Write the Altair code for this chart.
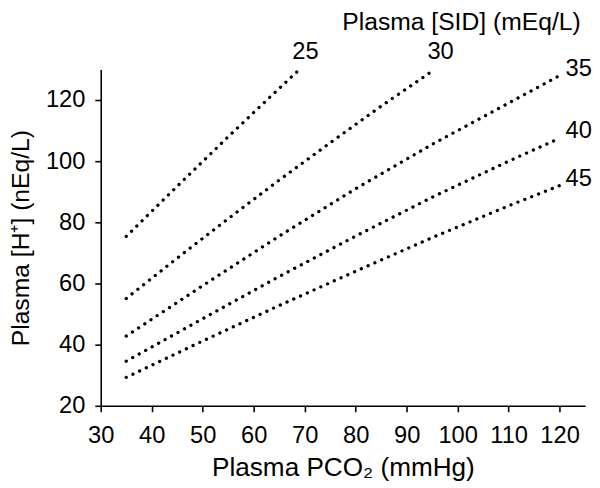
import altair as alt
import pandas as pd

# Plasma PCO2 (mmHg) sample positions and [H+] (nEq/L) for each SID curve
pco2_25 = [35, 45, 55, 65, 69]
h_25 = [75.4, 91.8, 108.0, 123.8, 130.0]

pco2_30 = [35, 45, 55, 65, 75, 85, 95.5]
h_30 = [55.1, 68.3, 81.2, 93.8, 106.0, 118.0, 130.0]

pco2_35 = [35, 50, 65, 80, 95, 110, 120]
h_35 = [42.8, 59.3, 75.5, 91.0, 105.5, 119.0, 128.0]

pco2_40 = [35, 50, 65, 80, 95, 110, 120]
h_40 = [34.6, 48.5, 62.3, 75.5, 88.2, 100.0, 107.5]

pco2_45 = [35, 50, 65, 80, 95, 110, 120]
h_45 = [29.3, 41.2, 52.8, 64.0, 75.0, 85.4, 92.0]

sid_values = [25, 30, 35, 40, 45]
x_ticks = [30, 40, 50, 60, 70, 80, 90, 100, 110, 120]
y_ticks = [20, 40, 60, 80, 100, 120]
legend_title = ["Plasma [SID] (mEq/L)"]

series = {
    25: (pco2_25, h_25),
    30: (pco2_30, h_30),
    35: (pco2_35, h_35),
    40: (pco2_40, h_40),
    45: (pco2_45, h_45),
}

rows = []
for sid in sid_values:
    xs, ys = series[sid]
    for i, (x, y) in enumerate(zip(xs, ys)):
        rows.append({"sid": sid, "pco2": x, "h": y, "order": i})
df = pd.DataFrame(rows)

ends = df.sort_values("order").groupby("sid").tail(1).copy()
ends["label"] = ends["sid"].astype(str)
top_ends = ends[ends["sid"].isin([25, 30])]
right_ends = ends[ends["sid"].isin([35, 40, 45])]

FONT = "Liberation Sans"

xscale = alt.Scale(domain=[30, 125], nice=False, zero=False)
yscale = alt.Scale(domain=[20, 130], nice=False, zero=False)

xaxis = alt.Axis(
    values=x_ticks, title="Plasma PCO₂ (mmHg)", grid=False,
    tickSize=6, labelPadding=12, labelFontSize=24, titleFontSize=26.5,
    titleFontWeight="normal", titlePadding=8, labelFlush=False, labelOverlap=False,
)
yaxis = alt.Axis(
    values=y_ticks, title="Plasma [H⁺] (nEq/L)", grid=False,
    tickSize=6, labelPadding=10, labelFontSize=24, titleFontSize=25,
    titleFontWeight="normal", titlePadding=12, labelFlush=False, labelOverlap=False,
)

lines = alt.Chart(df).mark_line(
    color="black", strokeWidth=3.3, strokeDash=[0.1, 7.4], strokeCap="round"
).encode(
    x=alt.X("pco2:Q", scale=xscale, axis=xaxis),
    y=alt.Y("h:Q", scale=yscale, axis=yaxis),
    detail="sid:N",
    order="order:Q",
)

top_labels = alt.Chart(top_ends).mark_text(
    font=FONT, fontSize=24, align="center", baseline="bottom", dx=6, dy=-6, color="black"
).encode(
    x=alt.X("pco2:Q", scale=xscale),
    y=alt.Y("h:Q", scale=yscale),
    text="label:N",
)

right_labels = alt.Chart(right_ends).mark_text(
    font=FONT, fontSize=24, align="left", baseline="middle", dx=6, dy=-7, color="black"
).encode(
    x=alt.X("pco2:Q", scale=xscale),
    y=alt.Y("h:Q", scale=yscale),
    text="label:N",
)

title_text = alt.Chart(pd.DataFrame({"t": legend_title})).mark_text(
    font=FONT, fontSize=25, align="right", baseline="alphabetic", color="black"
).encode(
    x=alt.value(486.5),
    y=alt.value(-39.5),
    text="t:N",
)

chart = alt.layer(lines, top_labels, right_labels, title_text).properties(
    width=491,
    height=341,
    padding={"left": 94, "top": 59, "right": 7, "bottom": 78},
    autosize=alt.AutoSizeParams(type="none"),
).configure_axis(
    domainColor="black", tickColor="black", domainWidth=1.6, tickWidth=1.6,
    labelColor="black", titleColor="black", labelFont=FONT, titleFont=FONT,
).configure_view(stroke=None)

chart.save("out.html", embed_options={"renderer": "svg", "actions": False})
